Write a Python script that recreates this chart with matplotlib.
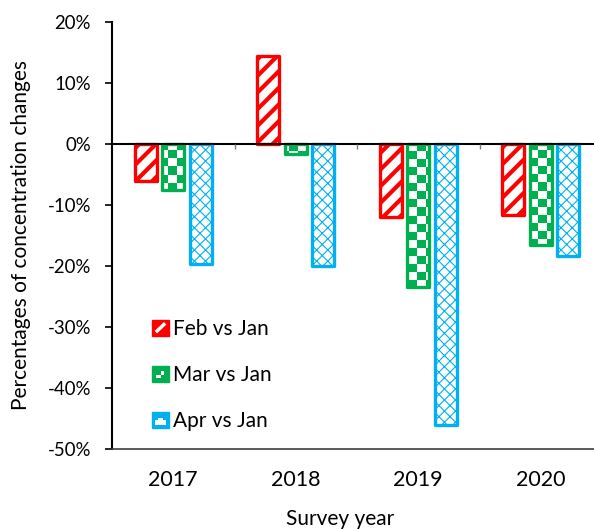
import matplotlib
matplotlib.use('Agg')
import matplotlib.pyplot as plt
import numpy as np
from matplotlib.legend_handler import HandlerBase
from matplotlib.patches import Rectangle
from matplotlib.lines import Line2D
from matplotlib.colors import ListedColormap
from matplotlib.ticker import FuncFormatter

# ---------------- data ----------------
years = ['2017', '2018', '2019', '2020']
series_labels = ['Feb vs Jan', 'Mar vs Jan', 'Apr vs Jan']
feb_vs_jan = [-6.0, 14.5, -11.9, -11.7]
mar_vs_jan = [-7.6, -1.6, -23.4, -16.6]
apr_vs_jan = [-19.7, -20.0, -46.0, -18.4]
y_ticks = [20, 10, 0, -10, -20, -30, -40, -50]

RED = '#FF0000'
GREEN = '#00B050'
BLUE = '#00B0F0'

plt.rcParams['font.family'] = ['Lato', 'DejaVu Sans']

W, H = 594, 529
fig = plt.figure(figsize=(W / 100, H / 100), dpi=100)
ax_l, ax_r, ax_t, ax_b = 112, 602, 22, 449
ax = fig.add_axes([ax_l / W, 1 - ax_b / H, (ax_r - ax_l) / W, (ax_b - ax_t) / H])

x = np.arange(len(years))
xlim = (-0.5, len(years) - 0.5)
ylim = (-50, 20)
bw = 0.181
off = 0.224
edge_lw = 2.4


def set_hlw(patch, lw):
    if hasattr(patch, 'set_hatch_linewidth'):
        patch.set_hatch_linewidth(lw)
    else:
        patch._hatch_linewidth = lw


with plt.rc_context({'hatch.linewidth': 3.0}):
    red_bars = ax.bar(x - off, feb_vs_jan, bw, facecolor='white', edgecolor=RED,
                      linewidth=edge_lw, hatch='//', zorder=2)
for b in red_bars:
    set_hlw(b, 3.0)
    b.set_joinstyle('round')

green_bars = ax.bar(x, mar_vs_jan, bw, facecolor='none', edgecolor=GREEN,
                    linewidth=edge_lw, zorder=3)
for b in green_bars:
    b.set_joinstyle('round')

with plt.rc_context({'hatch.linewidth': 0.8}):
    blue_bars = ax.bar(x + off, apr_vs_jan, bw, facecolor='white', edgecolor=BLUE,
                       linewidth=edge_lw, hatch='xxx', zorder=2)
for b in blue_bars:
    set_hlw(b, 0.8)
    b.set_joinstyle('round')

# checkerboard fill for the green bars
cell = 8.0
ncols = int(round((ax_r - ax_l) / cell))
nrows = int(round((ax_b - ax_t) / cell))
ii, jj = np.indices((nrows, ncols))
checker = (ii + jj) % 2
cmap = ListedColormap(['white', GREEN])
for b in green_bars:
    im = ax.imshow(checker, extent=(xlim[0], xlim[1], ylim[0], ylim[1]), origin='lower',
                   aspect='auto', interpolation='nearest', cmap=cmap, zorder=2.5)
    im.set_clip_path(b)

ax.set_xlim(*xlim)
ax.set_ylim(*ylim)

# zero line with category separator ticks
ax.axhline(0, color='black', lw=1.5, zorder=4)
ax.plot(x[:-1] + 0.5, np.zeros(len(x) - 1), ls='none', marker=3, ms=3.5,
        color='#7F7F7F', mew=1.0, zorder=4)

# spines
for s in ['top', 'right']:
    ax.spines[s].set_visible(False)
ax.spines['left'].set_color('black')
ax.spines['left'].set_linewidth(1.5)
ax.spines['bottom'].set_color('#404040')
ax.spines['bottom'].set_linewidth(1.2)

ax.set_yticks(y_ticks)
ax.yaxis.set_major_formatter(FuncFormatter(lambda v, p: f'{v:.0f}%'))
ax.tick_params(axis='y', direction='out', length=5, width=1.2, color='black',
               pad=10, labelsize=13.4, labelcolor='black')
ax.set_xticks(x)
ax.set_xticklabels(years)
ax.tick_params(axis='x', length=0, pad=15, labelsize=15.5, labelcolor='black')

fig.text(27 / W, 1 - 235 / H, 'Percentages of concentration changes', rotation=90,
         rotation_mode='anchor', ha='center', va='baseline', fontsize=15, color='black')
fig.text(340 / W, 1 - 525 / H, 'Survey year', ha='center', va='baseline',
         fontsize=15, color='black')


# ---------------- legend ----------------
class PatternHandler(HandlerBase):
    def __init__(self, color, kind):
        super().__init__()
        self.color = color
        self.kind = kind

    def create_artists(self, legend, orig_handle, xdescent, ydescent, width, height,
                       fontsize, trans):
        x0, y0 = -xdescent, -ydescent
        arts = [Rectangle((x0, y0), width, height, facecolor=self.color,
                          edgecolor=self.color, lw=1, transform=trans)]
        if self.kind == 'feb':
            arts.append(Line2D([x0 + 0.3 * width, x0 + 0.7 * width],
                               [y0 + 0.3 * height, y0 + 0.7 * height],
                               color='white', lw=2.5, transform=trans))
        elif self.kind == 'mar':
            arts.append(Rectangle((x0 + 0.25 * width, y0 + 0.25 * height), 0.25 * width,
                                  0.2 * height, facecolor='white', lw=0, transform=trans))
            arts.append(Rectangle((x0 + 0.5 * width, y0 + 0.45 * height), 0.2 * width,
                                  0.25 * height, facecolor='white', lw=0, transform=trans))
        else:
            arts.append(Rectangle((x0 + 0.2 * width, y0 + 0.2 * height), 0.6 * width,
                                  0.3 * height, facecolor='white', lw=0, transform=trans))
            arts.append(Rectangle((x0 + 0.35 * width, y0 + 0.5 * height), 0.3 * width,
                                  0.1 * height, facecolor='white', lw=0, transform=trans))
        return arts


h1, h2, h3 = Rectangle((0, 0), 1, 1), Rectangle((0, 0), 1, 1), Rectangle((0, 0), 1, 1)
leg_fs = 15
fs_px = leg_fs * 100 / 72
ax.legend([h1, h2, h3], series_labels,
          handler_map={h1: PatternHandler(RED, 'feb'), h2: PatternHandler(GREEN, 'mar'),
                       h3: PatternHandler(BLUE, 'apr')},
          loc='center left', bbox_to_anchor=(152 / W, 1 - 375 / H),
          bbox_transform=fig.transFigure, frameon=False, borderpad=0, borderaxespad=0,
          handlelength=17 / fs_px, handleheight=17 / fs_px, handletextpad=4 / fs_px,
          labelspacing=1.25, fontsize=leg_fs)

fig.savefig('out.png', dpi=100)
